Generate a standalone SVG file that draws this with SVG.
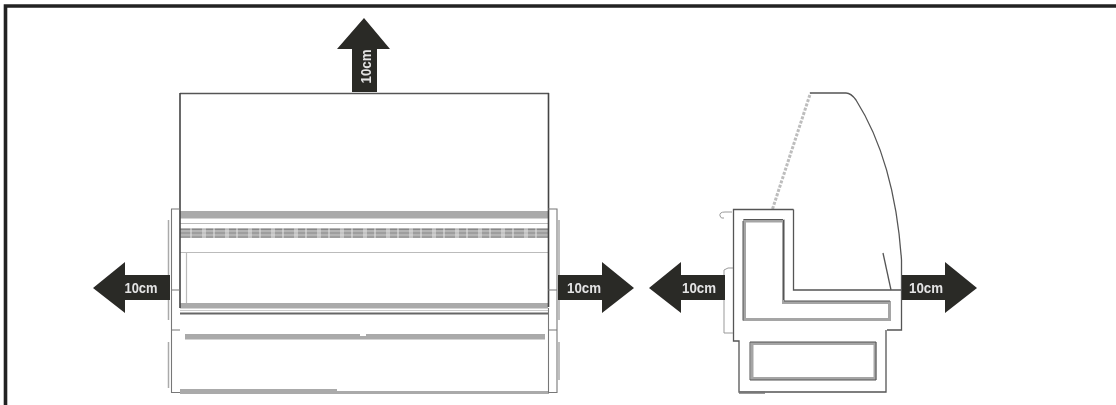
<svg xmlns="http://www.w3.org/2000/svg" width="1116" height="405" viewBox="0 0 1116 405">
<style>
.l{fill:none;stroke:#555;stroke-width:1.3}
.d{fill:none;stroke:#444;stroke-width:1.6}
.g{fill:none;stroke:#aaa;stroke-width:1.5}
.b{fill:#aaa}
.a{fill:#2b2a28}
.t{font-family:"Liberation Sans",Arial,sans-serif;font-size:14px;font-weight:bold;fill:#e4e4e4;text-anchor:middle}
</style>
<defs><filter id="soft" x="-2%" y="-2%" width="104%" height="104%"><feGaussianBlur stdDeviation="0.5"/></filter></defs>
<rect width="1116" height="405" fill="#fff"/>
<g filter="url(#soft)">
<g id="frame"><path d="M5.500 410V6H1122" fill="none" stroke="#222" stroke-width="3.600"/></g>
<g id="front-view">
<path class="l" d="M180 93.500H549"/>
<rect class="b" x="180" y="211" width="368" height="7.500"/>
<path d="M180 223.500H548M180 252.500H548M186.500 253V303" fill="none" stroke="#bbb" stroke-width="1.200"/>
<rect x="180" y="228" width="368" height="10" fill="#b4b4b4"/>
<path d="M180 229.500H548M180 233H548M180 237H548" stroke="#888" stroke-width="1" fill="none"/>
<path d="M191 228V238M203 228V238M205 228V238M214 228V238M226 228V238M228 228V238M237 228V238M249 228V238M251 228V238M260 228V238M272 228V238M274 228V238M283 228V238M295 228V238M297 228V238M306 228V238M318 228V238M320 228V238M329 228V238M341 228V238M343 228V238M352 228V238M364 228V238M366 228V238M375 228V238M387 228V238M389 228V238M398 228V238M410 228V238M412 228V238M421 228V238M433 228V238M435 228V238M444 228V238M456 228V238M458 228V238M467 228V238M479 228V238M481 228V238M490 228V238M502 228V238M504 228V238M513 228V238M525 228V238M527 228V238M536 228V238" stroke="#e8e8e8" stroke-width="1" fill="none"/>
<rect class="b" x="180" y="303" width="368" height="5.500"/>
<path d="M180 313.500H548" stroke="#666" stroke-width="1.800" fill="none"/>
<path d="M180 310.500H548" stroke="#ccc" stroke-width="1" fill="none"/>
<rect class="b" x="185" y="334" width="360" height="5.500"/>
<rect x="360" y="333" width="6" height="3" fill="#fff"/>
<rect class="b" x="180" y="389" width="157" height="5"/>
<rect x="337" y="391" width="212" height="3" fill="#aaa"/>
<path class="d" d="M180 93V308M548.500 93V307"/>
<path d="M180 209H171.500V392.500H180M180 330H171.500M171.500 290H180" fill="none" stroke="#777" stroke-width="1.100"/>
<path class="g" d="M168.500 220V320M168.500 342V388" stroke="#888"/>
<path d="M548 209H557V392.500H548M548 330H557M548 290H557M548.500 308V392" fill="none" stroke="#777" stroke-width="1.100"/>
<path class="g" d="M559 220V320M559 342V380"/>
</g>
<g id="side-view">
<path d="M772.500 209L810.500 93" fill="none" stroke="#bdbdbd" stroke-dasharray="3 1.500" stroke-width="3"/>
<path class="l" d="M810 93H846Q851 93 856 100C875 130 896 180 901.500 260V330H887"/>
<path class="l" d="M883 253L891 290"/>
<path class="l" d="M793.500 209.500H733.500V341H739V392H886V330"/>
<path class="l" d="M793.500 209.500V290H901"/>
<path d="M732 212H725Q719 212 720 216Q721 219 724 218M733 268H728L724 270V333H733" fill="none" stroke="#999" stroke-width="1"/>
<path d="M744.500 221H783.500V302.500H889.500V319.500H744.500Z" fill="none" stroke="#a5a5a5" stroke-width="3"/>
<path d="M743.500 219.500H783M743 320.500V221M783.500 220V300M784 301H890" fill="none" stroke="#555" stroke-width="1"/>
<path d="M752 343.500H875V378.500H752Z" fill="none" stroke="#a5a5a5" stroke-width="3"/>
<path d="M750 342H876V380H750Z" fill="none" stroke="#555" stroke-width="1"/>
<path d="M739 392.500H765" fill="none" stroke="#777" stroke-width="2.500"/>
</g>
<g id="connectors">
<g id="arrow-top"><path class="a" d="M352 92V49H337L364 18L390 49H377V92Z"/><text class="t" textLength="34" lengthAdjust="spacingAndGlyphs" transform="translate(371 66.500) rotate(-90)">10cm</text></g>
<g id="arrow-left-1"><path class="a" d="M170 275V300H125V313L93 288L125 262V275Z"/><text class="t" textLength="33" lengthAdjust="spacingAndGlyphs" x="141" y="293">10cm</text></g>
<g id="arrow-right-1"><path class="a" d="M558 275V300H602V313L634 288L602 262V275Z"/><text class="t" textLength="34" lengthAdjust="spacingAndGlyphs" x="584" y="293">10cm</text></g>
<g id="arrow-left-2"><path class="a" d="M725 275V300H681V313L649 288L681 262V275Z"/><text class="t" textLength="34" lengthAdjust="spacingAndGlyphs" x="699" y="293">10cm</text></g>
<g id="arrow-right-2"><path class="a" d="M902 275V300H945V313L977 288L945 262V275Z"/><text class="t" textLength="34" lengthAdjust="spacingAndGlyphs" x="926" y="293">10cm</text></g>
</g>
</g>
</svg>
